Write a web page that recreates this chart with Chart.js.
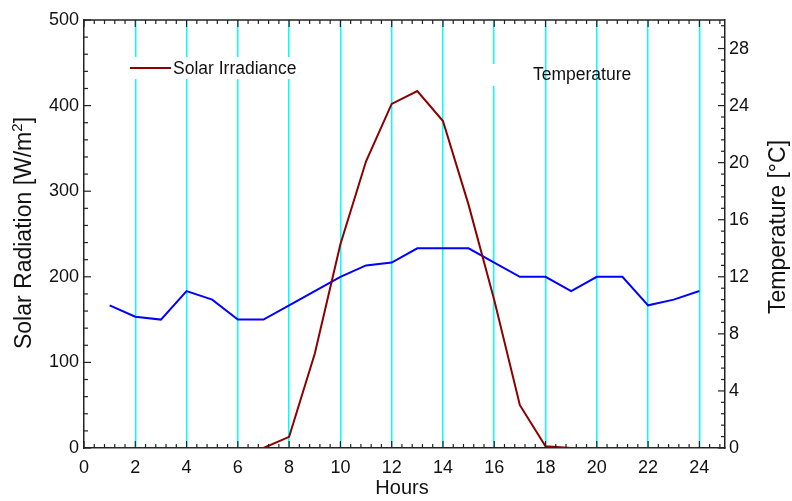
<!DOCTYPE html>
<html>
<head>
<meta charset="utf-8">
<script src="https://cdn.jsdelivr.net/npm/chart.js@4.4.1/dist/chart.umd.min.js"></script>
<style>
  html, body { margin: 0; padding: 0; background: #fff; }
  #wrap { width: 792px; height: 501px; }
</style>
</head>
<body>
<div id="wrap"><canvas id="solarChart" width="792" height="501"></canvas></div>
<script>
// Data
const hours = [1, 2, 3, 4, 5, 6, 7, 8, 9, 10, 11, 12, 13, 14, 15, 16, 17, 18, 19, 20, 21, 22, 23, 24];
const solarIrradiance = [0, 0, 0, 0, 0, 0, 0, 13, 110, 238, 335, 402, 417, 382, 284, 173, 50, 2, 0, 0, 0, 0, 0, 0];
const temperature = [10, 9.2, 9, 11, 10.4, 9, 9, 10, 11, 12, 12.8, 13, 14, 14, 14, 13, 12, 12, 11, 12, 12, 10, 10.4, 11];

const hourTicks = [0, 2, 4, 6, 8, 10, 12, 14, 16, 18, 20, 22, 24];
const radiationTicks = [0, 100, 200, 300, 400, 500];
const tempTicks = [0, 4, 8, 12, 16, 20, 24, 28];

const FONT = "'Liberation Sans', Arial, sans-serif";
const RED = '#8b0000';
const BLUE = '#0000ff';

const setTicks = (values) => (scale) => { scale.ticks = values.map(v => ({ value: v })); };

// Inward major/minor tick marks on all four sides
const tickMarks = {
    id: 'tickMarks',
    afterDraw(chart) {
        const { ctx, chartArea: a, scales } = chart;
        ctx.save();
        ctx.strokeStyle = '#222';
        ctx.lineWidth = 1.2;
        const drawAxis = (scale, values, sub, horiz, edges) => {
            const step = values[1] - values[0];
            values.forEach(v0 => {
                for (let k = 0; k < sub; k++) {
                    const v = v0 + k * step / sub;
                    if (v > scale.max) break;
                    const p = scale.getPixelForValue(v);
                    const len = k === 0 ? 7 : 4;
                    ctx.beginPath();
                    edges.forEach(([e, dir]) => {
                        if (horiz) { ctx.moveTo(p, e); ctx.lineTo(p, e + dir * len); }
                        else { ctx.moveTo(e, p); ctx.lineTo(e + dir * len, p); }
                    });
                    ctx.stroke();
                }
            });
        };
        drawAxis(scales.x, hourTicks, 5, true, [[a.bottom, -1], [a.top, 1]]);
        drawAxis(scales.y, radiationTicks, 5, false, [[a.left, 1]]);
        drawAxis(scales.y1, tempTicks, 5, false, [[a.right, -1]]);
        ctx.restore();
    }
};

// Legend entries and axis titles
const labels = {
    id: 'labels',
    afterDraw(chart) {
        const { ctx } = chart;
        ctx.save();
        ctx.fillStyle = '#fff';
        ctx.fillRect(125, 57, 176, 22);
        ctx.fillRect(468, 64, 62, 22);
        ctx.strokeStyle = RED;
        ctx.lineWidth = 2;
        ctx.beginPath(); ctx.moveTo(130, 68); ctx.lineTo(171, 68); ctx.stroke();
        ctx.fillStyle = '#111';
        ctx.font = `17.5px ${FONT}`;
        ctx.textBaseline = 'middle';
        ctx.textAlign = 'left';
        ctx.fillText('Solar Irradiance', 173, 69);
        ctx.fillText('Temperature', 533, 75);

        ctx.font = `20px ${FONT}`;
        ctx.textAlign = 'center';
        ctx.fillText('Hours', 402, 488);
        ctx.restore();

        // left title with superscript
        ctx.save();
        ctx.fillStyle = '#111';
        ctx.textBaseline = 'alphabetic';
        ctx.textAlign = 'left';
        const big = `23px ${FONT}`, small = `15px ${FONT}`;
        const p1 = 'Solar Radiation [W/m', p2 = '2', p3 = ']';
        ctx.font = big; const w1 = ctx.measureText(p1).width, w3 = ctx.measureText(p3).width;
        ctx.font = small; const w2 = ctx.measureText(p2).width;
        const total = w1 + w2 + w3;
        ctx.translate(31, 233);
        ctx.rotate(-Math.PI / 2);
        let x = -total / 2;
        ctx.font = big; ctx.fillText(p1, x, 0); x += w1;
        ctx.font = small; ctx.fillText(p2, x, -9); x += w2;
        ctx.font = big; ctx.fillText(p3, x, 0);
        ctx.restore();

        ctx.save();
        ctx.fillStyle = '#111';
        ctx.font = `23px ${FONT}`;
        ctx.textAlign = 'center';
        ctx.textBaseline = 'alphabetic';
        ctx.translate(785, 227);
        ctx.rotate(-Math.PI / 2);
        ctx.fillText('Temperature [°C]', 0, 0);
        ctx.restore();
    }
};

const tickFont = { family: FONT, size: 18 };

new Chart(document.getElementById('solarChart').getContext('2d'), {
    type: 'line',
    data: {
        datasets: [
            {
                label: 'Solar Irradiance',
                data: hours.map((h, i) => ({ x: h, y: solarIrradiance[i] })),
                borderColor: RED,
                borderWidth: 2,
                pointRadius: 0,
                tension: 0,
                yAxisID: 'y'
            },
            {
                label: 'Temperature',
                data: hours.map((h, i) => ({ x: h, y: temperature[i] })),
                borderColor: BLUE,
                borderWidth: 2,
                pointRadius: 0,
                tension: 0,
                yAxisID: 'y1'
            }
        ]
    },
    options: {
        responsive: false,
        animation: false,
        layout: { padding: { top: 20, left: 0, right: 0, bottom: 0 } },
        plugins: { legend: { display: false }, tooltip: { enabled: false } },
        scales: {
            x: {
                type: 'linear',
                position: 'bottom',
                min: 0,
                max: 25,
                afterBuildTicks: setTicks(hourTicks),
                afterFit: (s) => { s.height = 53; },
                grid: {
                    color: (c) => c.tick && c.tick.value === 0 ? 'rgba(0,0,0,0)' : '#00ffff',
                    lineWidth: 1.5,
                    drawTicks: false
                },
                border: { display: true, color: '#222', width: 1.5 },
                ticks: { font: tickFont, color: '#111', padding: 9, maxRotation: 0 }
            },
            y: {
                position: 'left',
                min: 0,
                max: 500,
                afterBuildTicks: setTicks(radiationTicks),
                afterFit: (s) => { s.width = 84; },
                grid: { drawOnChartArea: false, drawTicks: false },
                border: { display: true, color: '#222', width: 1.5 },
                ticks: { font: tickFont, color: '#111', padding: 5 }
            },
            y1: {
                position: 'right',
                min: 0,
                max: 30,
                afterBuildTicks: setTicks(tempTicks),
                afterFit: (s) => { s.width = 67; },
                grid: { drawOnChartArea: false, drawTicks: false },
                border: { display: true, color: '#222', width: 1.5 },
                ticks: { font: tickFont, color: '#111', padding: 4 }
            }
        }
    },
    plugins: [tickMarks, labels, {
        id: 'topBorder',
        afterDraw(chart) {
            const { ctx, chartArea: a } = chart;
            ctx.save();
            ctx.strokeStyle = '#222';
            ctx.lineWidth = 1.5;
            ctx.beginPath(); ctx.moveTo(a.left, a.top); ctx.lineTo(a.right, a.top); ctx.stroke();
            ctx.restore();
        }
    }]
});
</script>
</body>
</html>
